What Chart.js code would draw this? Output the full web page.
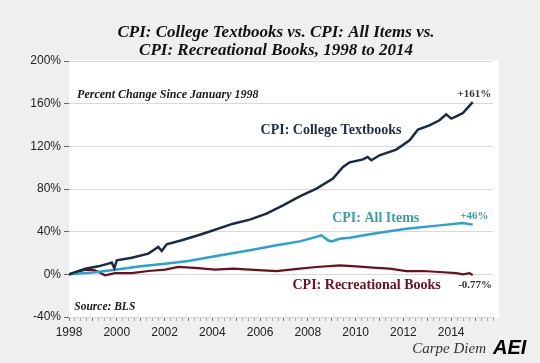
<!DOCTYPE html>
<html>
<head>
<meta charset="utf-8">
<script src="https://cdn.jsdelivr.net/npm/chart.js@4.4.1/dist/chart.umd.min.js"></script>
<style>
html, body { margin: 0; padding: 0; background: #efefef; }
</style>
</head>
<body>
<canvas id="cpiChart" width="540" height="363"></canvas>
<script>
// Data (percent change since Jan 1998)
const textbookYears = [1998.0, 1998.68, 1999.23, 1999.65, 1999.79, 1999.9, 2000.0, 2000.63, 2001.32, 2001.74, 2001.88, 2002.09, 2002.72, 2003.41, 2003.83, 2004.87, 2005.57, 2006.27, 2006.96, 2007.66, 2008.36, 2009.05, 2009.47, 2009.75, 2010.31, 2010.5, 2010.66, 2011.0, 2011.7, 2012.26, 2012.61, 2013.09, 2013.51, 2013.79, 2014.0, 2014.21, 2014.49, 2014.9];
const textbookValues = [0, 5.3, 7.5, 10, 11, 5.9, 13.1, 15.6, 19.4, 25.6, 21.8, 28.1, 31.9, 36.6, 39.7, 47.5, 51.3, 56.9, 64.7, 73.1, 80.3, 89.7, 100.6, 105, 107.8, 110, 106.9, 111.6, 116.9, 125.6, 135.7, 139.7, 144.4, 150, 146, 148.1, 151.2, 161.5];

const allItemsYears = [1998.0, 1999.0, 1999.93, 2001.0, 2002.02, 2003.0, 2004.11, 2004.9, 2005.57, 2006.69, 2007.66, 2008.43, 2008.57, 2008.84, 2008.99, 2009.33, 2009.75, 2010.72, 2012.12, 2013.51, 2014.49, 2014.9];
const allItemsValues = [0, 1.8, 4.4, 7.5, 10, 12.5, 16.9, 20, 22.5, 27.2, 30.9, 35.6, 36.6, 31.9, 30.9, 33.4, 34.4, 38.1, 42.8, 45.9, 48.1, 46.6];

const recBooksYears = [1998.0, 1998.68, 1999.09, 1999.51, 1999.93, 2000.63, 2001.32, 2002.02, 2002.58, 2003.41, 2004.11, 2004.87, 2005.57, 2006.69, 2007.66, 2008.36, 2009.33, 2010.03, 2010.72, 2011.42, 2012.12, 2012.81, 2013.51, 2014.21, 2014.49, 2014.77, 2014.9];
const recBooksValues = [0, 4.4, 3.7, -0.9, 1.2, 1.2, 3.1, 4.4, 6.9, 5.9, 4.4, 5.3, 4.4, 3.1, 5.3, 6.9, 8.4, 7.5, 6.3, 5.3, 3.1, 3.1, 2.2, 1.2, 0, 1.2, -0.77];

const yTicks = [-40, 0, 40, 80, 120, 160, 200];
const xLabelYears = [1998, 2000, 2002, 2004, 2006, 2008, 2010, 2012, 2014];

const toPoints = (xs, ys) => xs.map((x, i) => ({ x: x, y: ys[i] }));

// text placed on the chart, anchored in data units
const chartNotes = [
    { text: 'Percent Change Since January 1998', x: 1998.34, y: 167.8, align: 'left', color: '#1a1a1a', font: 'bold italic 12px "Liberation Serif"' },
    { text: 'CPI: College Textbooks', x: 2008.97, y: 135, align: 'center', color: '#1e2f45', font: 'bold 14px "Liberation Serif"' },
    { text: '+161%', x: 2014.97, y: 168.7, align: 'center', color: '#333333', font: 'bold 11px "Liberation Serif"' },
    { text: 'CPI: All Items', x: 2010.84, y: 52.5, align: 'center', color: '#3a9ea8', font: 'bold 14px "Liberation Serif"' },
    { text: '+46%', x: 2014.97, y: 54.4, align: 'center', color: '#3a9ea8', font: 'bold 11px "Liberation Serif"' },
    { text: 'CPI: Recreational Books', x: 2010.46, y: -10.3, align: 'center', color: '#6b1222', font: 'bold 14px "Liberation Serif"' },
    { text: '-0.77%', x: 2015.0, y: -10.3, align: 'center', color: '#333333', font: 'bold 11px "Liberation Serif"' },
    { text: 'Source: BLS', x: 1998.22, y: -31, align: 'left', color: '#1a1a1a', font: 'bold italic 11.5px "Liberation Serif"' }
];

const decorPlugin = {
    id: 'decor',
    beforeDraw: function (chart) {
        const ctx = chart.ctx, a = chart.chartArea;
        ctx.save();
        ctx.fillStyle = '#efefef';
        ctx.fillRect(0, 0, chart.width, chart.height);
        ctx.fillStyle = '#ffffff';
        ctx.fillRect(a.left, a.top - 1, a.right - a.left + 6, a.bottom - a.top + 2);
        ctx.restore();
    },
    afterDraw: function (chart) {
        const ctx = chart.ctx;
        const xs = chart.scales.x, ys = chart.scales.y;
        ctx.save();
        ctx.textBaseline = 'middle';
        chartNotes.forEach(function (n) {
            ctx.font = n.font;
            ctx.fillStyle = n.color;
            ctx.textAlign = n.align;
            ctx.fillText(n.text, xs.getPixelForValue(n.x), ys.getPixelForValue(n.y));
        });

        // title
        ctx.textAlign = 'center';
        ctx.fillStyle = '#111111';
        ctx.font = 'bold italic 17px "Liberation Serif"';
        ctx.fillText('CPI: College Textbooks vs. CPI: All Items vs.', 276, 33);
        ctx.fillText('CPI: Recreational Books, 1998 to 2014', 276, 51);

        // footer branding
        ctx.textAlign = 'right';
        ctx.fillStyle = '#333333';
        ctx.font = 'italic 15px "Liberation Serif"';
        ctx.fillText('Carpe Diem', 486, 349);
        ctx.textAlign = 'left';
        ctx.fillStyle = '#000000';
        ctx.font = 'bold italic 20px "Liberation Sans"';
        ctx.fillText('AEI', 493, 348);
        ctx.restore();
    }
};

new Chart(document.getElementById('cpiChart'), {
    type: 'line',
    data: {
        datasets: [
            {
                label: 'CPI: College Textbooks',
                data: toPoints(textbookYears, textbookValues),
                borderColor: '#1b2a41',
                borderWidth: 2.5
            },
            {
                label: 'CPI: All Items',
                data: toPoints(allItemsYears, allItemsValues),
                borderColor: '#2aa0d4',
                borderWidth: 2.5
            },
            {
                label: 'CPI: Recreational Books',
                data: toPoints(recBooksYears, recBooksValues),
                borderColor: '#6d0f1b',
                borderWidth: 2.2
            }
        ]
    },
    options: {
        responsive: false,
        animation: false,
        elements: {
            point: { radius: 0 },
            line: { tension: 0, fill: false }
        },
        layout: { padding: { top: 61, right: 47, bottom: 24, left: 0 } },
        plugins: {
            legend: { display: false },
            tooltip: { enabled: false }
        },
        scales: {
            x: {
                type: 'linear',
                min: 1998,
                max: 2015.75,
                border: { display: false },
                grid: {
                    drawOnChartArea: false,
                    tickLength: 4,
                    tickColor: function (c) { return Number.isInteger(c.tick.value) ? '#777' : '#aaa'; }
                },
                ticks: {
                    stepSize: 0.25,
                    autoSkip: false,
                    maxRotation: 0,
                    padding: 4,
                    color: '#222',
                    font: { family: '"Liberation Sans"', size: 12 },
                    callback: function (v) { return xLabelYears.includes(v) ? String(v) : ''; }
                },
                afterFit: function (s) { s.height = 22; }
            },
            y: {
                min: -40,
                max: 200,
                border: { display: false },
                grid: {
                    color: '#d9d9d9',
                    tickColor: '#666',
                    tickLength: 5
                },
                ticks: {
                    stepSize: 40,
                    padding: 3,
                    color: '#222',
                    font: { family: '"Liberation Sans"', size: 12 },
                    callback: function (v) { return yTicks.includes(v) ? v + '%' : ''; }
                },
                afterFit: function (s) { s.width = 69; }
            }
        }
    },
    plugins: [decorPlugin]
});
</script>
</body>
</html>
